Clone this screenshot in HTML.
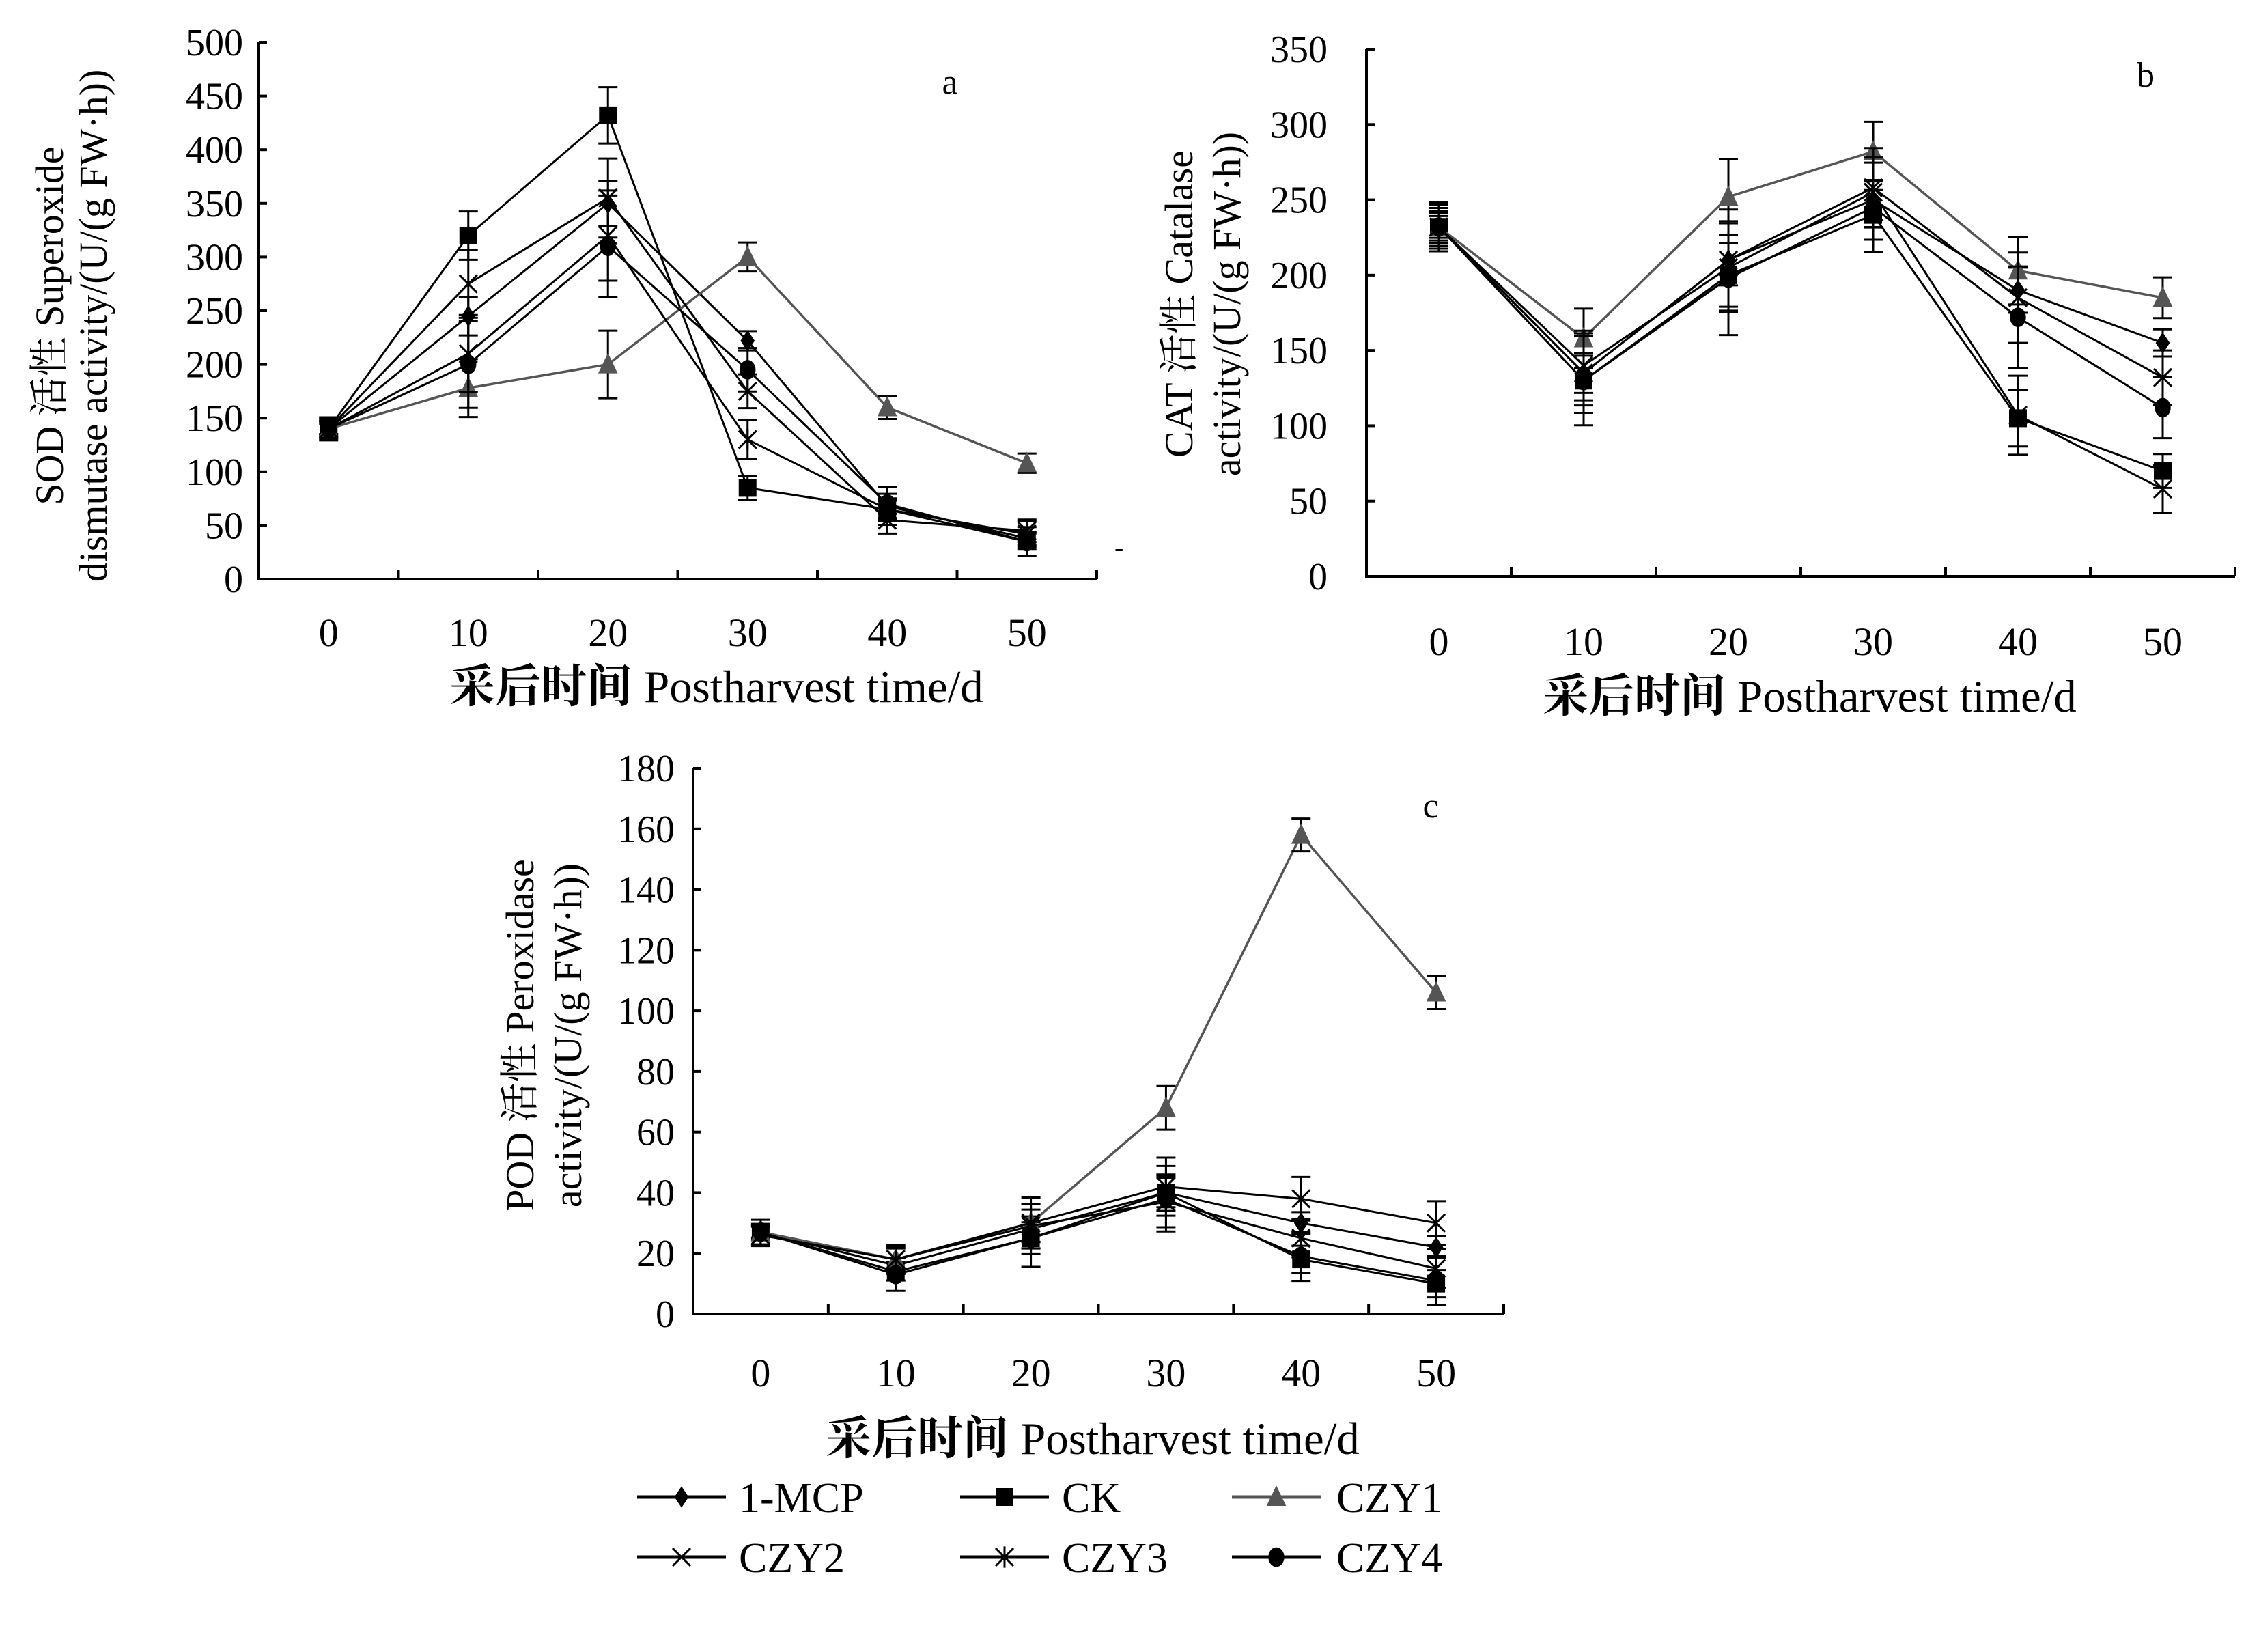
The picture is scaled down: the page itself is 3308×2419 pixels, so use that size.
<!DOCTYPE html>
<html><head><meta charset="utf-8">
<style>
html,body{margin:0;padding:0;background:#fff;}
svg{display:block;}
text{font-family:"Liberation Serif","Noto Serif CJK SC","Noto Sans CJK SC",serif;fill:#000;}
</style></head>
<body>
<svg id="fig" width="3308" height="2419" viewBox="0 0 3308 2419" xmlns="http://www.w3.org/2000/svg"></svg>
<script>
const days = [0,10,20,30,40,50];
const seriesNames = ["1-MCP","CK","CZY1","CZY2","CZY3","CZY4"];
// Chart a: SOD
const sodMCP  = [140,245,350,222,68,38];
const sodCK   = [140,320,432,85,65,35];
const sodCZY1 = [140,178,200,300,160,108];
const sodCZY2 = [140,275,355,175,55,45];
const sodCZY3 = [140,210,320,130,65,42];
const sodCZY4 = [140,200,310,195,70,35];
const sodErr  = [8,30,35,15,12,10];
const sodTicks = [0,50,100,150,200,250,300,350,400,450,500];
// Chart b: CAT
const catMCP  = [232,135,210,250,190,155];
const catCK   = [232,130,200,240,105,70];
const catCZY1 = [232,158,252,282,203,185];
const catCZY2 = [232,140,205,255,107,58];
const catCZY3 = [232,135,210,258,185,132];
const catCZY4 = [232,130,198,245,172,112];
const catErr  = [12,22,28,22,25,15];
const catTicks = [0,50,100,150,200,250,300,350];
// Chart c: POD
const podMCP  = [27,16,28,40,30,22];
const podCK   = [27,14,25,40,18,10];
const podCZY1 = [27,18,30,68,158,106];
const podCZY2 = [26,18,29,37,25,15];
const podCZY3 = [26,18,30,42,38,30];
const podCZY4 = [27,13,25,38,19,11];
const podErr  = [3,4,7,8,6,6];
const podTicks = [0,20,40,60,80,100,120,140,160,180];

const NS="http://www.w3.org/2000/svg";
const svg=document.getElementById('fig');
function mk(tag,attrs,parent){const e=document.createElementNS(NS,tag);for(const k in attrs)e.setAttribute(k,attrs[k]);(parent||svg).appendChild(e);return e;}
function txt(s,attrs,parent){const e=mk('text',attrs,parent);e.textContent=s;return e;}

function marker(g,type,x,y,color){
  const s=13;
  if(type==="1-MCP"){mk('polygon',{points:`${x},${y-s*1.2} ${x+s*0.8},${y} ${x},${y+s*1.2} ${x-s*0.8},${y}`,fill:color},g);}
  else if(type==="CK"){mk('rect',{x:x-s,y:y-s,width:2*s,height:2*s,fill:color},g);}
  else if(type==="CZY1"){mk('polygon',{points:`${x},${y-s*1.3} ${x+s*1.1},${y+s} ${x-s*1.1},${y+s}`,fill:color},g);}
  else if(type==="CZY2"){mk('path',{d:`M${x-s} ${y-s}L${x+s} ${y+s}M${x+s} ${y-s}L${x-s} ${y+s}`,stroke:color,'stroke-width':3},g);}
  else if(type==="CZY3"){mk('path',{d:`M${x-s} ${y-s}L${x+s} ${y+s}M${x+s} ${y-s}L${x-s} ${y+s}M${x} ${y-s*1.2}L${x} ${y+s*1.2}`,stroke:color,'stroke-width':3},g);}
  else {mk('ellipse',{cx:x,cy:y,rx:s*0.9,ry:s*1.1,fill:color},g);}
}

function chart(cfg){
  const g=mk('g',{});
  
  
  const {L,R,T,B,max}=cfg;
  const n=days.length;
  const xs=i=>L+(i+0.5)*(R-L)/n;
  const ys=v=>B-(v/max)*(B-T);
  const ax=mk('path',{d:`M${L} ${T}L${L} ${B}L${R} ${B}`,stroke:'#000','stroke-width':4,fill:'none'},g);
  
  
  cfg.ticks.forEach(t=>{
    mk('line',{x1:L,x2:L+12,y1:ys(t),y2:ys(t),stroke:'#000','stroke-width':4},g);
    const lb=txt(String(t),{x:cfg.yLabelX,y:ys(t)+19,'font-size':56,'text-anchor':'end'},g);
    
    
  });
  for(let i=1;i<=n;i++){const x=L+i*(R-L)/n;mk('line',{x1:x,x2:x,y1:B,y2:B-14,stroke:'#000','stroke-width':4},g);}
  days.forEach((d,i)=>{
    const lb=txt(String(d),{x:xs(i),y:cfg.xLabelY,'font-size':58,'text-anchor':'middle'},g);
    
    
  });
  const xt=mk('text',{x:cfg.xTitleX,y:cfg.xTitleY,'font-size':67,'text-anchor':'middle','xml:space':'preserve'},g);
  
  
  const t1=mk('tspan',{'font-weight':'bold'},xt);t1.textContent='采后时间';
  const t2=mk('tspan',{},xt);t2.textContent='  Postharvest time/d';
  cfg.yTitle.forEach((s,k)=>{
    const yt=txt(s,{x:0,y:0,'font-size':58,'text-anchor':'middle','xml:space':'preserve',transform:`translate(${cfg.yTitleX[k]},${cfg.yTitleY}) rotate(-90)`},g);
    
    
  });
  const pl=txt(cfg.letter,{x:cfg.letterX,y:cfg.letterY,'font-size':52,'text-anchor':'middle'},g);
  
  
  cfg.series.forEach((vals,si)=>{
    const name=seriesNames[si];
    const color=name==="CZY1"?'#555':'#000';
    const sg=mk('g',{},g);
    
    
    const pts=vals.map((v,i)=>`${xs(i)},${ys(v)}`).join(' ');
    mk('polyline',{points:pts,fill:'none',stroke:color,'stroke-width':name==="CZY1"?3.5:3},sg);
    vals.forEach((v,i)=>{
      const e=cfg.err[i]*(0.6+0.15*si);
      const x=xs(i);
      mk('path',{d:`M${x} ${ys(v+e)}L${x} ${ys(v-e)}M${x-14} ${ys(v+e)}L${x+14} ${ys(v+e)}M${x-14} ${ys(v-e)}L${x+14} ${ys(v-e)}`,stroke:'#000','stroke-width':3},sg);
      marker(sg,name,x,ys(v),color);
    });
  });
}

chart({name:'chart-sod',L:379,R:1606,T:62,B:848,max:500,ticks:sodTicks,yLabelX:356,xLabelY:946,
  xTitleX:1049,xTitleY:1028,yTitle:['SOD 活性  Superoxide','dismutase activity/(U/(g FW·h))'],yTitleX:[92,156],yTitleY:477,
  letter:'a',letterX:1391,letterY:137,series:[sodMCP,sodCK,sodCZY1,sodCZY2,sodCZY3,sodCZY4],err:sodErr});
chart({name:'chart-cat',L:2001,R:3273,T:72,B:844,max:350,ticks:catTicks,yLabelX:1944,xLabelY:959,
  xTitleX:2650,xTitleY:1042,yTitle:['CAT 活性  Catalase','activity/(U/(g FW·h))'],yTitleX:[1746,1816],yTitleY:445,
  letter:'b',letterX:3142,letterY:127,series:[catMCP,catCK,catCZY1,catCZY2,catCZY3,catCZY4],err:catErr});
chart({name:'chart-pod',L:1015,R:2202,T:1125,B:1924,max:180,ticks:podTicks,yLabelX:988,xLabelY:2030,
  xTitleX:1600,xTitleY:2129,yTitle:['POD 活性  Peroxidase','activity/(U/(g FW·h))'],yTitleX:[781,851],yTitleY:1516,
  letter:'c',letterX:2095,letterY:1197,series:[podMCP,podCK,podCZY1,podCZY2,podCZY3,podCZY4],err:podErr});

txt('-',{x:1632,y:815,'font-size':40},svg);

const legX=[[933,1082],[1406,1555],[1804,1957]];
const legY=[2192,2280];
const lg=mk('g',{});


seriesNames.forEach((name,i)=>{
  const col=i%3,row=Math.floor(i/3);
  const [lx,tx]=legX[col];const y=legY[row];
  const color=name==="CZY1"?'#555':'#000';
  const eg=mk('g',{},lg);
  
  
  mk('line',{x1:lx,x2:lx+130,y1:y,y2:y,stroke:color,'stroke-width':5},eg);
  marker(eg,name,lx+65,y,color);
  txt(name,{x:tx,y:y+22,'font-size':62},eg);
});
</script>
</body></html>
